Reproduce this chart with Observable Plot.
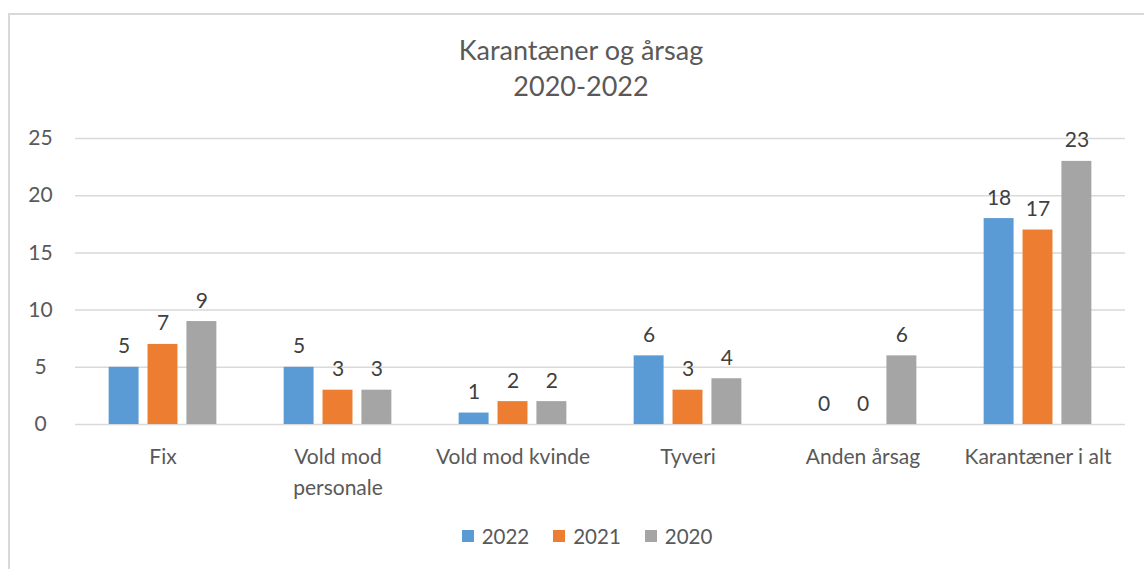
<!DOCTYPE html>
<html>
<head>
<meta charset="utf-8">
<script src="https://cdn.jsdelivr.net/npm/d3@7"></script>
<script src="https://cdn.jsdelivr.net/npm/@observablehq/plot@0.6"></script>
<style>
  html, body { margin: 0; padding: 0; background: #fff; width: 1144px; height: 569px; overflow: hidden; font-family: Lato, "Open Sans", sans-serif; }
  #frame { position: absolute; left: 8px; top: 13px; width: 1150px; height: 570px; border: 2px solid #d9d9d9; box-sizing: border-box; }
  #title { position: absolute; left: 0; top: 32px; width: 1162px; text-align: center; color: #595959; font-size: 27px; line-height: 36px; }
  #chart { position: absolute; left: 0; top: 110px; }
  #legend { position: absolute; top: 524px; left: 0; width: 1174px; display: flex; justify-content: center; gap: 24px; color: #595959; font-size: 20.5px; }
  #legend span.item { display: flex; align-items: center; gap: 8px; }
  #legend span.sw { width: 12px; height: 12px; display: inline-block; }
</style>
</head>
<body>
<div id="frame"></div>
<div id="title">Karantæner og årsag<br>2020-2022</div>
<div id="chart"></div>
<div id="legend"></div>
<script>
const categories = ["Fix", "Vold mod personale", "Vold mod kvinde", "Tyveri", "Anden årsag", "Karantæner i alt"];
const categoryLabels = ["Fix", "Vold mod\npersonale", "Vold mod kvinde", "Tyveri", "Anden årsag", "Karantæner i alt"];
const years = ["2022", "2021", "2020"];
const colors = ["#5B9BD5", "#ED7D31", "#A5A5A5"];
const values2022 = [5, 5, 1, 6, 0, 18];
const values2021 = [7, 3, 2, 3, 0, 17];
const values2020 = [9, 3, 2, 4, 6, 23];
const yTicks = [0, 5, 10, 15, 20, 25];

const series = [values2022, values2021, values2020];
const data = [];
categories.forEach((c, i) => {
  years.forEach((y, j) => data.push({category: c, year: y, value: series[j][i]}));
});

const chart = Plot.plot({
  width: 1144,
  height: 400,
  marginLeft: 73,
  marginRight: 18,
  marginTop: 28,
  marginBottom: 86,
  style: {fontFamily: "Lato, 'Open Sans', sans-serif", color: "#595959", background: "transparent"},
  fx: {domain: categories, padding: 0, label: null},
  x: {domain: years, paddingInner: 0.23, paddingOuter: 0.865, round: false, axis: null},
  y: {domain: [0, 25], ticks: yTicks, label: null},
  color: {domain: years, range: colors},
  marks: [
    Plot.ruleY(yTicks, {y: d => d, stroke: "#d9d9d9", strokeWidth: 1.5}),
    Plot.barY(data, {fx: "category", x: "year", y: "value", fill: "year"}),
    Plot.text(data, {fx: "category", x: "year", y: "value", text: d => String(d.value), lineAnchor: "bottom", dy: -14, fontSize: 21, fill: "#404040"}),
    Plot.axisY(yTicks, {tickSize: 0, tickPadding: 35, textAnchor: "middle", fontSize: 21, fill: "#595959", label: null}),
    Plot.axisFx({anchor: "bottom", tickSize: 0, tickPadding: 17, fontSize: 21, fill: "#595959", label: null, lineHeight: 1.5,
      tickFormat: d => categoryLabels[categories.indexOf(d)]})
  ]
});
document.getElementById("chart").appendChild(chart);

const legend = document.getElementById("legend");
years.forEach((y, i) => {
  const item = document.createElement("span");
  item.className = "item";
  const sw = document.createElement("span");
  sw.className = "sw";
  sw.style.background = colors[i];
  item.appendChild(sw);
  item.appendChild(document.createTextNode(y));
  legend.appendChild(item);
});
</script>
</body>
</html>
